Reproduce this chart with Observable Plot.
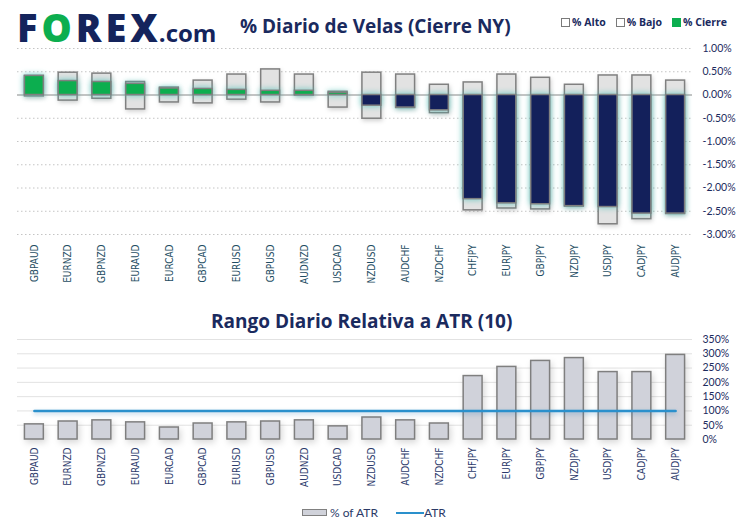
<!DOCTYPE html>
<html><head><meta charset="utf-8">
<script src="https://cdn.jsdelivr.net/npm/d3@7"></script>
<script src="https://cdn.jsdelivr.net/npm/@observablehq/plot@0.6"></script>
<style>
body{margin:0;background:#fff;}
#wrap{position:relative;width:748px;height:532px;overflow:hidden;background:#fff;font-family:Lato,"Open Sans",sans-serif;}
.abs{position:absolute;}
#logo{left:17px;top:1px;font-family:"Open Sans",sans-serif;font-weight:800;font-size:38px;letter-spacing:4px;color:#14245c;white-space:nowrap;}
#logo .g{color:#0cae4f;}
#logo .com{font-size:24px;letter-spacing:0;font-weight:700;margin-left:-3px;}
#title1{left:240px;top:13px;font-family:"Open Sans",sans-serif;font-weight:700;font-size:19px;color:#1a2a5e;white-space:nowrap;}
#leg1{left:561px;top:15px;font-family:"Open Sans",sans-serif;font-weight:700;font-size:10.5px;color:#1a2a5e;white-space:nowrap;display:flex;gap:10px;align-items:center;}
#leg1 span.sw{display:inline-block;width:7px;height:7px;border:1px solid #7a7a7a;background:#fff;margin-right:2px;vertical-align:-1px;}
#title2{left:211px;top:308px;font-family:"Open Sans",sans-serif;font-weight:700;font-size:19px;color:#1a2a5e;white-space:nowrap;}
#leg2{left:302px;top:505px;font-size:12px;color:#2b3a67;white-space:nowrap;display:flex;align-items:center;}
#leg2 .r{display:inline-block;width:23px;height:5px;border:1px solid #808080;background:#d0d2da;margin-right:3px;}
#leg2 .l{display:inline-block;width:28px;height:2px;background:#2a90cc;margin-left:18px;}
</style></head><body>
<div id="wrap">
  <div id="topChart" class="abs" style="left:0;top:0"></div>
  <div id="botChart" class="abs" style="left:0;top:300px"></div>
  <div id="logo" class="abs">F<span class="g">O</span>REX<span class="com">.com</span></div>
  <div id="title1" class="abs">% Diario de Velas (Cierre NY)</div>
  <div id="leg1" class="abs"><span><span class="sw"></span>% Alto</span><span><span class="sw"></span>% Bajo</span><span><span class="sw" style="background:#0cae4f;border-color:#0cae4f"></span>% Cierre</span></div>
  <div id="title2" class="abs">Rango Diario Relativa a ATR (10)</div>
  <div id="leg2" class="abs"><span class="r"></span>% of ATR<span class="l"></span>ATR</div>
</div>
<script>
const pairs = ["GBPAUD","EURNZD","GBPNZD","EURAUD","EURCAD","GBPCAD","EURUSD","GBPUSD","AUDNZD","USDCAD","NZDUSD","AUDCHF","NZDCHF","CHFJPY","EURJPY","GBPJPY","NZDJPY","USDJPY","CADJPY","AUDJPY"];
const highPct  = [0.41,0.48,0.46,0.28,0.16,0.31,0.44,0.55,0.44,0.07,0.48,0.44,0.22,0.27,0.44,0.37,0.22,0.42,0.42,0.31];
const lowPct   = [-0.03,-0.12,-0.08,-0.31,-0.16,-0.18,-0.10,-0.16,-0.01,-0.27,-0.51,-0.28,-0.39,-2.48,-2.44,-2.46,-2.40,-2.78,-2.67,-2.56];
const closePct = [0.41,0.30,0.28,0.24,0.14,0.13,0.11,0.09,0.09,0.05,-0.23,-0.27,-0.33,-2.24,-2.33,-2.35,-2.39,-2.41,-2.55,-2.55];
const atrPct   = [53,63,67,60,42,56,60,63,67,46,77,67,56,222,254,275,285,236,236,296];
const atrRef   = [100,100,100,100,100,100,100,100,100,100,100,100,100,100,100,100,100,100,100,100];
const topTicks = [1,0.5,0,-0.5,-1,-1.5,-2,-2.5,-3];
const botTicks = [0,50,100,150,200,250,300,350];

const candles = pairs.map((p,i)=>({pair:p, high:highPct[i], low:lowPct[i], close:closePct[i]}));
const ranges = pairs.map((p,i)=>({pair:p, pct:atrPct[i], atr:atrRef[i]}));

const GREEN = "#0cae4f", NAVY = "#13205b";
const xOpts = {domain: pairs, paddingInner: 0.44, paddingOuter: 0.22, round: false};
const labelFont = "'Liberation Sans Narrow', 'DejaVu Sans Condensed', 'Liberation Sans', sans-serif";

const chartTop = Plot.plot({
  width: 748, height: 300,
  marginTop: 48, marginBottom: 66, marginLeft: 17, marginRight: 56,
  style: {fontFamily: "Lato, 'Open Sans', sans-serif", background: "transparent"},
  x: xOpts,
  y: {domain: [-3, 1]},
  marks: [
    Plot.ruleY(topTicks.filter(d => d !== 0), {stroke: "#c4c4c4", strokeDasharray: "1.5,2.5"}),
    Plot.barY(candles, {x: "pair", y1: "low", y2: "high", fill: "#e2e2e2", stroke: "#808080", strokeWidth: 1.5}),
    Plot.ruleY([0], {stroke: "#8a8a8a", strokeWidth: 1.2}),
    Plot.barY(candles, {x: "pair", y1: 0, y2: "close", fill: d => d.close >= 0 ? GREEN : NAVY, stroke: "#808080", strokeWidth: 1.5}),
    Plot.axisY({anchor: "right", ticks: topTicks, tickSize: 0, tickPadding: 10, tickFormat: d => d.toFixed(2) + "%", fill: "#1c2b5e", fontSize: 10.5, label: null}),
    Plot.axisX({tickRotate: -90, tickSize: 0, tickPadding: 10, fill: "#1e4d63", fontSize: 10, fontFamily: labelFont, label: null})
  ]
});
document.getElementById("topChart").appendChild(chartTop);

const chartBot = Plot.plot({
  width: 748, height: 200,
  marginTop: 39, marginBottom: 61, marginLeft: 17, marginRight: 56,
  style: {fontFamily: "Lato, 'Open Sans', sans-serif", background: "transparent"},
  x: xOpts,
  y: {domain: [0, 350]},
  marks: [
    Plot.ruleY(botTicks.filter(d => d !== 0), {stroke: "#e2e2e2"}),
    Plot.barY(ranges, {x: "pair", y: "pct", fill: "#d0d2da", stroke: "#7f7f7f", strokeWidth: 1.5}),
    Plot.lineY(ranges, {x: "pair", y: "atr", stroke: "#2a90cc", strokeWidth: 2.5}),
    Plot.axisY({anchor: "right", ticks: botTicks, tickSize: 0, tickPadding: 10, tickFormat: d => d + "%", fill: "#1c2b5e", fontSize: 10.5, label: null}),
    Plot.axisX({tickRotate: -90, tickSize: 0, tickPadding: 8, fill: "#2b3a6b", fontSize: 10, fontFamily: labelFont, label: null})
  ]
});
document.getElementById("botChart").appendChild(chartBot);

// soft glow / shadows
const tb = chartTop.querySelectorAll('g[aria-label="bar"]');
if (tb[0]) tb[0].style.filter = "drop-shadow(1px 2px 2px rgba(0,0,0,0.18))";
if (tb[1]) tb[1].style.filter = "drop-shadow(0 0 3px rgba(60,190,180,0.75))";
const bb = chartBot.querySelectorAll('g[aria-label="bar"]');
if (bb[0]) bb[0].style.filter = "drop-shadow(2px 3px 3px rgba(0,0,0,0.15))";
const bl = chartBot.querySelectorAll('g[aria-label="line"]');
if (bl[0]) bl[0].style.filter = "drop-shadow(0 2px 2px rgba(40,120,180,0.35))";
</script>
</body></html>
